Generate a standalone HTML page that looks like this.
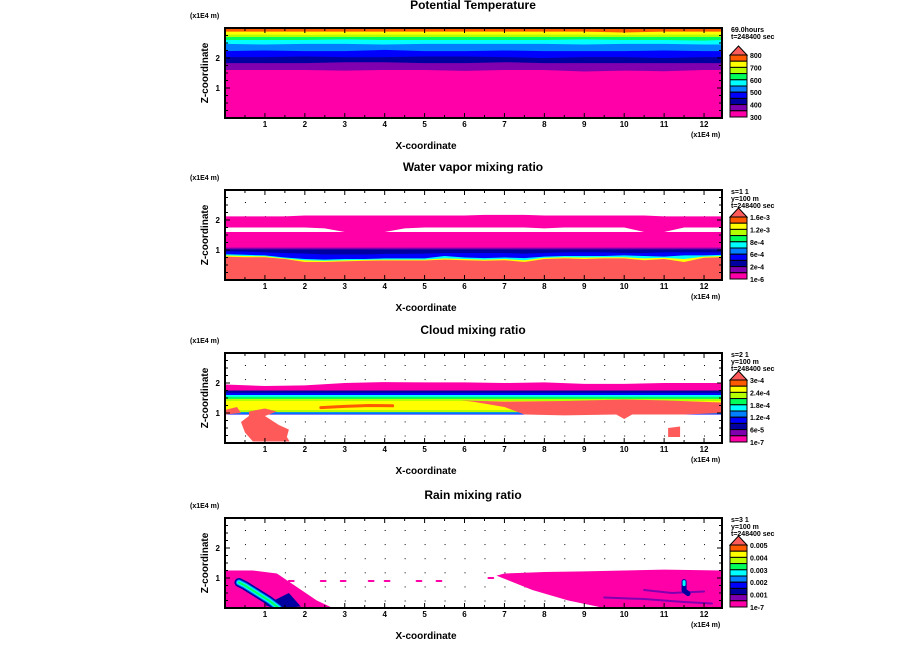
<!DOCTYPE html>
<html><head><meta charset="utf-8"><style>
html,body{margin:0;padding:0;background:#fff;}
svg{display:block;}
text{font-family:"Liberation Sans",sans-serif;font-weight:bold;fill:#000;}
</style></head><body>
<svg id="chart" width="904" height="654" viewBox="0 0 904 654" xmlns="http://www.w3.org/2000/svg"></svg>
<script>
// ---------- data ----------
const xTicks=[1,2,3,4,5,6,7,8,9,10,11,12];
const zTicks=[1,2];
const titles=["Potential Temperature","Water vapor mixing ratio","Cloud mixing ratio","Rain mixing ratio"];
const infoLines=[["69.0hours","t=248400 sec"],["s=1 1","y=100 m","t=248400 sec"],["s=2 1","y=100 m","t=248400 sec"],["s=3 1","y=100 m","t=248400 sec"]];
const cbLabels1=["800","700","600","500","400","300"];
const cbLabels2=["1.6e-3","1.2e-3","8e-4","6e-4","2e-4","1e-6"];
const cbLabels3=["3e-4","2.4e-4","1.8e-4","1.2e-4","6e-5","1e-7"];
const cbLabels4=["0.005","0.004","0.003","0.002","0.001","1e-7"];
const palette=["#ff5a00","#ffff00","#b4ff00","#00ff5a","#00ffff","#0080ff","#0000ff","#0000a0","#8000b0","#ff00a8"];
const SALMON="#ff5a5a";
// panel 1 bands (top z of each band), x samples
const xs1=[0,1,2,3,4,5,6,7,8,9,10,11,12,12.45];
const pt_orange=[3,3,3,3,3,3,3,3,3,3,3,3,3,3];
const pt_yellow=[2.88,2.88,2.88,2.88,2.88,2.88,2.88,2.88,2.88,2.88,2.85,2.88,2.88,2.88];
const pt_yg=[2.78,2.78,2.77,2.78,2.78,2.78,2.78,2.78,2.78,2.78,2.77,2.78,2.78,2.78];
const pt_green=[2.7,2.7,2.7,2.7,2.7,2.7,2.7,2.7,2.7,2.7,2.7,2.7,2.7,2.7];
const pt_cyan=[2.6,2.6,2.6,2.62,2.6,2.6,2.6,2.6,2.6,2.62,2.6,2.6,2.58,2.6];
const pt_lblue=[2.47,2.45,2.47,2.47,2.45,2.47,2.47,2.47,2.47,2.45,2.47,2.47,2.45,2.45];
const pt_blue=[2.23,2.25,2.23,2.23,2.27,2.23,2.23,2.25,2.23,2.23,2.23,2.25,2.23,2.23];
const pt_navy=[2.03,2.03,2.05,2.03,2.03,2.05,2.05,2.03,2.0,2.03,2.03,2.0,2.03,2.03];
const pt_purple=[1.83,1.83,1.83,1.86,1.86,1.83,1.83,1.86,1.83,1.83,1.83,1.83,1.83,1.83];
const pt_magenta=[1.6,1.6,1.6,1.58,1.6,1.6,1.57,1.6,1.6,1.55,1.58,1.56,1.6,1.6];
// panel 2 water vapor
const xs2=[0,0.5,1,1.5,2,2.5,3,3.5,4,4.5,5,5.5,6,6.5,7,7.5,8,8.5,9,9.5,10,10.5,11,11.5,12,12.5];
const wv_magTop=[2.12,2.12,2.12,2.12,2.15,2.15,2.15,2.15,2.15,2.15,2.15,2.15,2.15,2.17,2.17,2.17,2.15,2.15,2.15,2.15,2.15,2.15,2.12,2.12,2.12,2.12];
const wv_gapLo=[1.6,1.6,1.6,1.6,1.6,1.6,1.6,1.6,1.6,1.6,1.6,1.6,1.6,1.6,1.6,1.6,1.6,1.6,1.6,1.6,1.6,1.6,1.6,1.6,1.6,1.6];
const wv_gapHi=[1.75,1.75,1.75,1.75,1.75,1.72,1.6,1.6,1.6,1.72,1.75,1.75,1.75,1.75,1.75,1.75,1.72,1.75,1.75,1.75,1.75,1.6,1.6,1.75,1.75,1.75];
const wv_purple=[1.08,1.08,1.08,1.08,1.08,1.08,1.08,1.08,1.08,1.08,1.08,1.08,1.08,1.08,1.08,1.08,1.08,1.08,1.08,1.08,1.08,1.08,1.08,1.08,1.08,1.08];
const wv_navy=[1.02,1.02,1.02,1.02,1.02,1.02,1.02,1.02,1.02,1.02,1.02,1.02,1.02,1.02,1.02,1.02,1.02,1.02,1.02,1.02,1.02,1.02,1.02,1.02,1.02,1.02];
const wv_blue=[0.95,0.95,0.92,0.9,0.88,0.85,0.85,0.85,0.87,0.87,0.88,0.9,0.9,0.9,0.9,0.88,0.9,0.92,0.92,0.92,0.9,0.9,0.92,0.92,0.92,0.92];
const wv_cyan=[0.86,0.84,0.82,0.75,0.7,0.68,0.7,0.7,0.72,0.72,0.72,0.8,0.75,0.73,0.75,0.73,0.78,0.8,0.8,0.8,0.82,0.8,0.78,0.82,0.82,0.84];
const wv_yellow=[0.82,0.8,0.79,0.72,0.66,0.64,0.66,0.67,0.68,0.68,0.68,0.72,0.7,0.68,0.7,0.66,0.74,0.76,0.75,0.76,0.76,0.72,0.74,0.7,0.78,0.8];
const wv_salmon=[0.78,0.76,0.76,0.7,0.6,0.6,0.62,0.64,0.65,0.65,0.65,0.68,0.66,0.64,0.66,0.6,0.7,0.72,0.7,0.72,0.72,0.66,0.7,0.6,0.74,0.76];
// panel 3 cloud
const cm_magTop=[1.95,1.9,1.92,2.0,2.03,2.02,2.02,2.0,2.02,1.97,1.97,2.0,2.0,2.0];
const cm_bands=[1.75,1.67,1.6,1.54,1.47,1.4,1.1,1.03,0.97];
const cm_bandColors=["#0000a0","#0000ff","#00ffff","#00ff5a","#b4ff00","#ffff00","#b4ff00","#0080ff","#0000ff"];
const streakOX=[2.4,3.0,3.6,4.2]; const streakOZ=[1.18,1.22,1.25,1.24];
const salmonRX=[5.9,7,8.5,10,11,12.45,12.45,11.5,10.2,10.0,9.8,8.5,7.5,7.0,6.2];
const salmonRZ=[1.42,1.38,1.4,1.45,1.42,1.35,1.0,0.95,0.95,0.8,0.95,0.92,0.95,1.2,1.38];
const salmonLX=[0.6,1.0,1.3,1.0,1.35,1.6,1.55,1.62,0.7,0.5,0.4,0.6];
const salmonLZ=[1.05,1.15,1.05,0.9,0.6,0.45,0.2,0.05,0.05,0.35,0.7,0.9];
const salmonL2X=[0,0.3,0.4,0.0]; const salmonL2Z=[1.1,1.2,1.0,0.95];
const salmonSX=[11.1,11.4,11.4,11.1]; const salmonSZ=[0.5,0.55,0.2,0.2];
// panel 4 rain
const rainLX=[0,0.7,1.3,1.8,2.3,2.7,0]; const rainLZ=[1.25,1.25,1.15,0.7,0.25,0,0];
const rainRX=[6.8,7,8,9,10,11,12.45,12.45,9.5,8.6,7.7,7.1];
const rainRZ=[1.08,1.15,1.2,1.22,1.25,1.28,1.25,0,0,0.25,0.6,0.92];
const rainFragX=[1.6,2.4,2.9,3.6,4.0,4.8,5.3,6.6];
const rainFragZ=[0.9,0.9,0.9,0.9,0.9,0.9,0.9,1.0];
const rainStreakX=[0.35,0.5,0.8,1.1,1.35]; const rainStreakZ=[0.85,0.75,0.5,0.25,0.0];
const rainBlobX=[1.0,1.6,1.9,1.5,1.2]; const rainBlobZ=[0.1,0.5,0.05,0,0];
const rainSpotX=[11.5]; const rainSpotZ=[0.88];

// ---------- layout ----------
const svg=document.getElementById('chart');
const NS="http://www.w3.org/2000/svg";
const PL=225,PR=722,PH=90,XMAX=12.45,ZMAX=3;
const tops=[28,190,353,518];
function mk(tag,attrs,parent){const e=document.createElementNS(NS,tag);for(const k in attrs)e.setAttribute(k,attrs[k]);(parent||svg).appendChild(e);return e;}
function sx(x){return PL+(x/XMAX)*(PR-PL);}
function szf(top){return z=>top+PH-(z/ZMAX)*PH;}
function area(g,sz,xs,lo,hi,color,name){
  let pts=[];for(let i=0;i<xs.length;i++)pts.push(sx(xs[i])+","+sz(hi[i]));
  for(let i=xs.length-1;i>=0;i--)pts.push(sx(xs[i])+","+sz(lo[i]));
  const p=mk('polygon',{points:pts.join(' '),fill:color},g);
  
  
}
function poly(g,sz,xs,zs,color,name){
  let pts=[];for(let i=0;i<xs.length;i++)pts.push(sx(xs[i])+","+sz(zs[i]));
  const p=mk('polygon',{points:pts.join(' '),fill:color},g);
  
  
}
function line(g,sz,xs,zs,color,w,name){
  let pts=[];for(let i=0;i<xs.length;i++)pts.push(sx(xs[i])+","+sz(zs[i]));
  const p=mk('polyline',{points:pts.join(' '),fill:'none',stroke:color,'stroke-width':w,'stroke-linecap':'round','stroke-linejoin':'round'},g);
  
  
}
const cbSets=[cbLabels1,cbLabels2,cbLabels3,cbLabels4];

tops.forEach((top,pi)=>{
  const sz=szf(top);
  const g=mk('g',{});
  
  
  const cp=mk('clipPath',{id:'clip'+pi},g);
  mk('rect',{x:PL,y:top,width:PR-PL,height:PH},cp);
  const fg=mk('g',{'clip-path':'url(#clip'+pi+')'},g);
  
  
  const zero1=xs1.map(()=>0), zero2=xs2.map(()=>0);
  if(pi>0){
    for(let x=0.5;x<XMAX;x+=0.5)for(let z=0.25;z<ZMAX;z+=0.47){
      mk('rect',{x:sx(x),y:sz(z),width:1,height:1,fill:'#000'},fg);
    }
  }
  if(pi===0){
    const layers=[[pt_orange,palette[0]],[pt_yellow,palette[1]],[pt_yg,palette[2]],[pt_green,palette[3]],[pt_cyan,palette[4]],[pt_lblue,palette[5]],[pt_blue,palette[6]],[pt_navy,palette[7]],[pt_purple,palette[8]],[pt_magenta,palette[9]]];
    layers.forEach((l,i)=>area(fg,sz,xs1,zero1,l[0],l[1],'theta-band-'+i));
  } else if(pi===1){
    area(fg,sz,xs2,zero2,wv_magTop,palette[9],'vapor-upper-layer');
    area(fg,sz,xs2,wv_gapLo,wv_gapHi,'#fff','vapor-gap');
    area(fg,sz,xs2,zero2,wv_purple,palette[8],'vapor-purple');
    area(fg,sz,xs2,zero2,wv_navy,palette[7],'vapor-navy');
    area(fg,sz,xs2,zero2,wv_blue,palette[6],'vapor-blue');
    area(fg,sz,xs2,zero2,wv_cyan,palette[4],'vapor-cyan');
    area(fg,sz,xs2,zero2,wv_yellow,palette[1],'vapor-yellow');
    area(fg,sz,xs2,zero2,wv_salmon,SALMON,'vapor-moist-layer');
  } else if(pi===2){
    const base=xs1.map(()=>0.95);
    area(fg,sz,xs1,base,cm_magTop,palette[9],'cloud-top-layer');
    cm_bands.forEach((b,i)=>area(fg,sz,xs1,base,xs1.map(()=>b),cm_bandColors[i],'cloud-band-'+i));
    line(fg,sz,streakOX,streakOZ,palette[0],3,'cloud-orange-streak');
    poly(fg,sz,salmonRX,salmonRZ,SALMON,'cloud-max-right');
    poly(fg,sz,salmonLX,salmonLZ,SALMON,'cloud-max-left');
    poly(fg,sz,salmonL2X,salmonL2Z,SALMON,'cloud-max-left-edge');
    poly(fg,sz,salmonSX,salmonSZ,SALMON,'cloud-max-small');
  } else {
    poly(fg,sz,rainLX,rainLZ,palette[9],'rain-left-region');
    poly(fg,sz,rainRX,rainRZ,palette[9],'rain-right-region');
    for(let i=0;i<rainFragX.length;i++){line(fg,sz,[rainFragX[i],rainFragX[i]+0.12],[rainFragZ[i],rainFragZ[i]],palette[9],2,'rain-fragment');}
    poly(fg,sz,rainBlobX,rainBlobZ,palette[7],'rain-blob');
    line(fg,sz,rainStreakX,rainStreakZ,palette[7],9,'rain-streak-navy');
    line(fg,sz,rainStreakX,rainStreakZ,palette[5],6,'rain-streak-blue');
    line(fg,sz,rainStreakX,rainStreakZ,palette[4],4,'rain-streak-cyan');
    line(fg,sz,rainStreakX,rainStreakZ,palette[3],2,'rain-streak-green');
    line(fg,sz,[9.5,10.5,11.5,12.2],[0.35,0.3,0.2,0.15],palette[8],2,'rain-wisp');
    line(fg,sz,[10.5,11.2,12],[0.6,0.5,0.55],palette[8],2,'rain-wisp');
    line(fg,sz,[rainSpotX[0],rainSpotX[0],rainSpotX[0]+0.1],[rainSpotZ[0],rainSpotZ[0]-0.3,rainSpotZ[0]-0.4],palette[7],5,'rain-spot-navy');
    line(fg,sz,[rainSpotX[0],rainSpotX[0]],[rainSpotZ[0],rainSpotZ[0]-0.1],palette[4],3,'rain-spot-cyan');
  }
  const fr=mk('rect',{x:PL,y:top,width:PR-PL,height:PH,fill:'none',stroke:'#000','stroke-width':2},g);
  
  
  for(let x=0.5;x<XMAX;x+=0.5){
    const L=(Math.abs(x-Math.round(x))<0.01)?5:3;
    mk('line',{x1:sx(x),x2:sx(x),y1:top,y2:top+L,stroke:'#000','stroke-width':1},g);
    mk('line',{x1:sx(x),x2:sx(x),y1:top+PH,y2:top+PH-L,stroke:'#000','stroke-width':1},g);
  }
  for(let z=0.25;z<ZMAX;z+=0.25){
    const L=(Math.abs(z-Math.round(z))<0.01)?5:3;
    mk('line',{x1:PL,x2:PL+L,y1:sz(z),y2:sz(z),stroke:'#000','stroke-width':1},g);
    mk('line',{x1:PR,x2:PR-L,y1:sz(z),y2:sz(z),stroke:'#000','stroke-width':1},g);
  }
  xTicks.forEach(v=>{const t=mk('text',{x:sx(v),y:top+PH+9,'font-size':8,'text-anchor':'middle'},g);t.textContent=v;
    });
  zTicks.forEach(v=>{const t=mk('text',{x:PL-5,y:sz(v)+3,'font-size':8,'text-anchor':'end'},g);t.textContent=v;
    });
  const tt=mk('text',{x:473,y:top-19,'font-size':12,'text-anchor':'middle'},g);tt.textContent=titles[pi];
  
  const u1=mk('text',{x:190,y:top-10,'font-size':7},g);u1.textContent="(x1E4 m)";
  
  const u2=mk('text',{x:691,y:top+PH+19,'font-size':7},g);u2.textContent="(x1E4 m)";
  
  const xa=mk('text',{x:426,y:top+PH+31,'font-size':10,'text-anchor':'middle'},g);xa.textContent="X-coordinate";
  
  const za=mk('text',{x:0,y:0,'font-size':10,'text-anchor':'middle',transform:'translate(208,'+(top+PH/2)+') rotate(-90)'},g);za.textContent="Z-coordinate";
  
  infoLines[pi].forEach((s,i)=>{const t=mk('text',{x:731,y:top+4+i*7,'font-size':7,'font-weight':'normal'},g);t.textContent=s;
    });
  const cb=mk('g',{},g);
  
  const cx=730,cw=17,cTop=top+27,bh=6.2;
  const tri=mk('polygon',{points:`${cx},${cTop} ${cx+cw},${cTop} ${cx+cw/2},${cTop-9}`,fill:SALMON,stroke:'#000','stroke-width':1},cb);
  
  palette.forEach((c,i)=>{const r=mk('rect',{x:cx,y:cTop+i*bh,width:cw,height:bh,fill:c,stroke:'#000','stroke-width':1},cb);
    });
  cbSets[pi].forEach((s,i)=>{const t=mk('text',{x:cx+cw+3,y:cTop+i*2*bh+3,'font-size':7},cb);t.textContent=s;
    });
});
</script>
</body></html>
